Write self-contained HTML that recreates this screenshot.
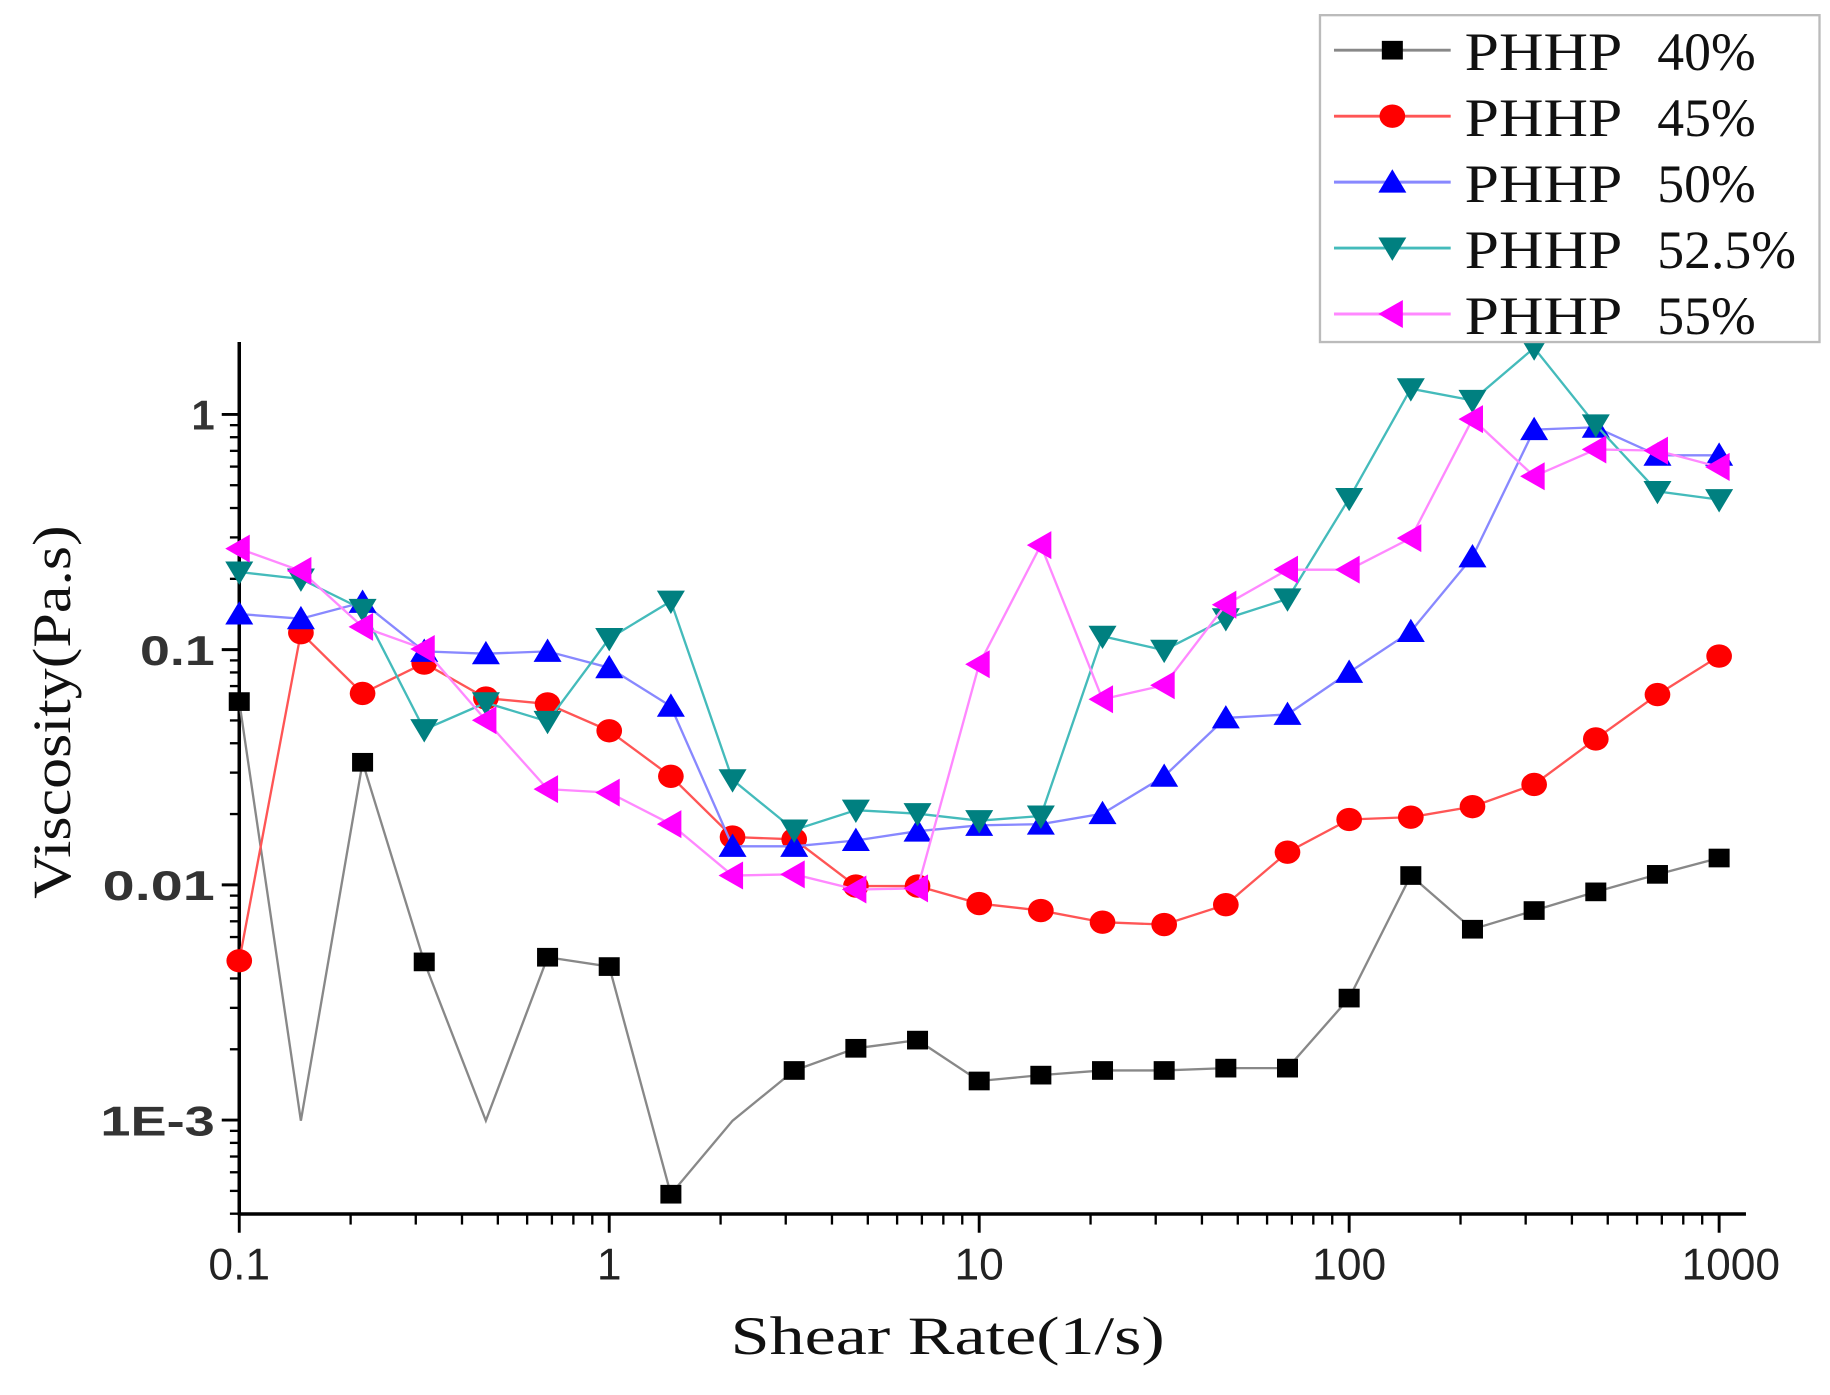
<!DOCTYPE html>
<html><head><meta charset="utf-8"><style>
html,body{margin:0;padding:0;background:#fff;}
svg{display:block;}
</style></head><body>
<svg id="s" width="1830" height="1395" viewBox="0 0 1568 1195" preserveAspectRatio="none" xmlns="http://www.w3.org/2000/svg">
<rect x="0" y="0" width="1568" height="1195" fill="#fff"/>
<g id="axes" stroke="#000" stroke-width="3" fill="none"></g>
<g id="lab" font-family="Liberation Sans, sans-serif" font-size="30" fill="#222"></g>
<g id="ser"></g>
<text transform="translate(60,610) rotate(-90)" font-family="Liberation Serif, serif" font-size="46" fill="#111" text-anchor="middle" textLength="320" lengthAdjust="spacingAndGlyphs">Viscosity(Pa.s)</text>
<text x="812" y="1160" font-family="Liberation Serif, serif" font-size="46" fill="#111" text-anchor="middle" textLength="372" lengthAdjust="spacingAndGlyphs">Shear Rate(1/s)</text>
<rect x="1131" y="13" width="428" height="280" fill="#fff" stroke="#bbb" stroke-width="2"/>
<g id="leg" font-family="Liberation Serif, serif" font-size="46" fill="#111"></g>
</svg>
<script>
const NS="http://www.w3.org/2000/svg";
function el(p,t,a,txt){const e=document.createElementNS(NS,t);for(const k in a)e.setAttribute(k,a[k]);if(txt!==undefined)e.textContent=txt;p.appendChild(e);return e;}
const ax=document.getElementById('axes'),lab=document.getElementById('lab'),ser=document.getElementById('ser'),leg=document.getElementById('leg');
const X0=205,DX=317,Y1=355,DY=201.5;
el(ax,'line',{x1:205,y1:293,x2:205,y2:1041});
el(ax,'line',{x1:204,y1:1040,x2:1496,y2:1040});
for(let d=-1;d<4;d++){const yb=Y1+d*DY;
 if(d>=0)el(ax,'line',{x1:190,y1:yb,x2:205,y2:yb,'stroke-width':2.5});
 for(let m=2;m<=9;m++){const y=yb+DY-DY*Math.log10(m);if(y>=1040||y<295)continue;el(ax,'line',{x1:197,y1:y,x2:205,y2:y,'stroke-width':2});}
}
for(let d=0;d<=4;d++){const xb=X0+d*DX;el(ax,'line',{x1:xb,y1:1040,x2:xb,y2:1056,'stroke-width':2.5});
 if(d<4)for(let m=2;m<=9;m++){const x=xb+DX*Math.log10(m);el(ax,'line',{x1:x,y1:1040,x2:x,y2:1049,'stroke-width':2});}}
const yl=[['1',20],['0.1',64],['0.01',96],['1E-3',98]];
yl.forEach((t,i)=>el(lab,'text',{x:184,y:Y1+i*DY+13,'text-anchor':'end','font-weight':'bold',fill:'#333','font-size':36,textLength:t[1],lengthAdjust:'spacingAndGlyphs'},t[0]));
const xl=['0.1','1','10','100','1000'];
xl.forEach((t,i)=>el(lab,'text',{x:X0+i*DX+(i==4?10:0),y:1096,'text-anchor':'middle','font-size':38},t));
const data=[
 {c:'#000',l:'#888',m:'sq',y:[601,960,653,824,960,820,828,1023,960,917,898,891,926,921,917,917,915,915,855,750,796,780,764,749,735],skip:[1,4,8]},
 {c:'#f00',l:'#f55',m:'ci',y:[823,542,594,568,598,603,626,665,717,719,759,759,774,780,790,792,775,730,702,700,691,672,633,595,562]},
 {c:'#00f',l:'#88f',m:'up',y:[526,530,516,558,560,558,572,605,725,725,720,712,707,706,697,665,615,612,576,541,477,368,366,390,390]},
 {c:'#008080',l:'#4bb',m:'dn',y:[490,496,522,625,602,618,547,515,668,711,694,697,703,699,545,557,530,513,427,333,343,298,364,421,428]},
 {c:'#f0f',l:'#f8f',m:'lt',y:[470,489,537,556,617,676,679,706,750,749,762,761,569,467,599,587,518,488,488,461,359,408,385,386,400]}
];
function mark(g,type,x,y,c){
 if(type==='sq')el(g,'rect',{x:x-9,y:y-8,width:18,height:16,fill:c});
 else if(type==='ci')el(g,'ellipse',{cx:x,cy:y,rx:11,ry:10,fill:c});
 else if(type==='up')el(g,'polygon',{points:`${x},${y-11} ${x+12},${y+9} ${x-12},${y+9}`,fill:c});
 else if(type==='dn')el(g,'polygon',{points:`${x-12},${y-9} ${x+12},${y-9} ${x},${y+11}`,fill:c});
 else el(g,'polygon',{points:`${x-12},${y} ${x+9},${y-12} ${x+9},${y+12}`,fill:c});
}
data.forEach(d=>{const g=el(ser,'g',{});
 const pts=d.y.map((y,i)=>(X0+i*DX/6).toFixed(1)+','+y).join(' ');
 el(g,'polyline',{points:pts,fill:'none',stroke:d.l,'stroke-width':2});
 d.y.forEach((y,i)=>{if(d.skip&&d.skip.includes(i))return;mark(g,d.m,X0+i*DX/6,y,d.c);});
});
const p1=['PHHP','PHHP','PHHP','PHHP','PHHP'],p2=['40%','45%','50%','52.5%','55%'];
data.forEach((d,i)=>{const y=43+i*56.5;
 el(leg,'line',{x1:1143,y1:y,x2:1243,y2:y,stroke:d.l,'stroke-width':2.5});
 mark(leg,d.m,1193,y,d.c);
 el(leg,'text',{x:1255,y:y+17,textLength:135,lengthAdjust:'spacingAndGlyphs'},'PHHP');
 el(leg,'text',{x:1420,y:y+17},p2[i]);
});
</script>
</body></html>
